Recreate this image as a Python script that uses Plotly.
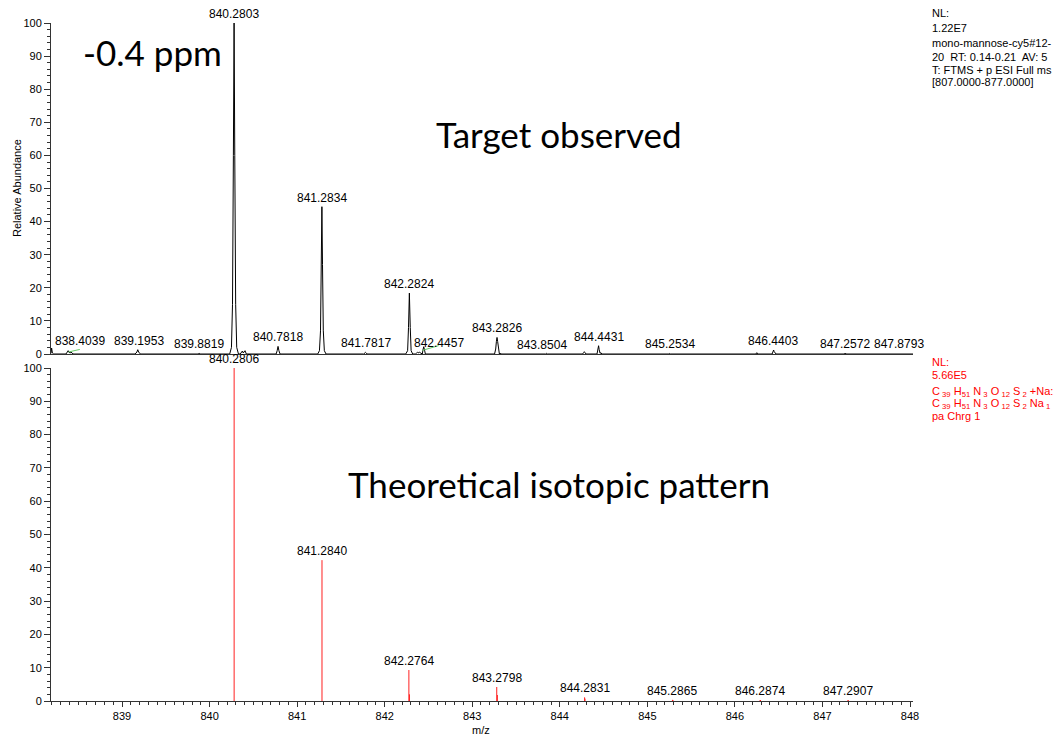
import plotly.graph_objects as go

# ---------------- data ----------------
# observed profile spectrum (m/z, relative abundance)
obs_mz = [838.189, 838.196, 838.205, 838.22,
          838.36, 838.375, 838.385, 838.395, 838.41, 838.42, 838.43, 838.45,
          839.15, 839.17, 839.18, 839.19, 839.21,
          839.87, 839.88, 839.89,
          840.230, 840.250, 840.262, 840.272, 840.280, 840.288, 840.298, 840.310, 840.330,
          840.35, 840.365, 840.375, 840.385, 840.395, 840.405, 840.42,
          840.76, 840.772, 840.782, 840.792, 840.805,
          841.235, 841.255, 841.267, 841.276, 841.283, 841.290, 841.299, 841.311, 841.330,
          841.76, 841.775, 841.782, 841.79, 841.80,
          842.24, 842.262, 842.272, 842.282, 842.292, 842.302, 842.32,
          842.35, 842.365, 842.375, 842.385, 842.395, 842.405, 842.43,
          842.437, 842.446, 842.455, 842.465,
          843.255, 843.268, 843.276, 843.283, 843.290, 843.298, 843.31, 843.32, 843.33,
          843.84, 843.85, 843.86,
          844.26, 844.272, 844.28, 844.288, 844.30,
          844.425, 844.436, 844.443, 844.450, 844.46, 844.47, 844.48,
          845.24, 845.25, 845.26,
          846.24, 846.25, 846.26,
          846.425, 846.435, 846.442, 846.449, 846.46, 846.47,
          847.25, 847.26, 847.27,
          847.87, 847.88, 847.89,
          848.034]
obs_int = [0.2, 1.8, 0.3, 0,
           0, 0.5, 1.0, 0.5, 0.3, 0.6, 0.2, 0,
           0, 0.6, 1.3, 0.6, 0,
           0, 0.25, 0,
           0, 2, 15, 60, 100, 60, 15, 2, 0,
           0, 0.6, 0.9, 0.3, 0.8, 1.0, 0,
           0, 1.0, 2.3, 1.0, 0,
           0, 1, 7, 27, 44.5, 27, 7, 1, 0,
           0, 0.3, 0.5, 0.3, 0,
           0, 1, 8, 18.4, 8, 1, 0,
           0, 0.3, 0.5, 0.3, 0.6, 0.4, 0,
           1.2, 2.2, 1.2, 0,
           0, 1.5, 3.8, 5.0, 3.8, 1.5, 0, 0.3, 0,
           0, 0.2, 0,
           0, 0.4, 0.7, 0.4, 0,
           0, 1.3, 2.5, 1.3, 0.2, 0.4, 0,
           0, 0.15, 0,
           0, 0.4, 0,
           0, 0.7, 1.2, 0.7, 0.3, 0,
           0, 0.3, 0,
           0, 0.15, 0,
           0]

# labelled observed peaks
obs_label_mz = [838.4039, 839.1953, 839.8819, 840.2803, 840.7818, 841.2834,
                841.7817, 842.2824, 842.4457, 843.2826, 843.8504, 844.4431,
                845.2534, 846.4403, 847.2572, 847.8793]
obs_label_int = [1.2, 1.3, 0.3, 100, 2.3, 44.5,
                 0.6, 18.4, 2.2, 5.0, 0.0, 2.5,
                 0.3, 1.2, 0.3, 0.3]

# theoretical isotopic pattern (sticks)
theo_mz = [840.2806, 841.2840, 842.2764, 842.2830, 843.2798, 843.2870,
           844.2831, 844.2880, 845.2865, 845.2920, 846.2874, 846.2920,
           847.2907, 847.2950]
theo_int = [100, 42.3, 9.3, 2.0, 4.2, 1.8,
            1.1, 0.7, 0.35, 0.3, 0.3, 0.3,
            0.25, 0.25]
theo_label_mz = [840.2806, 841.2840, 842.2764, 843.2798, 844.2831,
                 845.2865, 846.2874, 847.2907]
theo_label_int = [100, 42.3, 9.3, 4.2, 1.1, 0.35, 0.3, 0.25]

header_lines = ["NL:", "1.22E7", "mono-mannose-cy5#12-",
                "20  RT: 0.14-0.21  AV: 5", "T: FTMS + p ESI Full ms",
                "[807.0000-877.0000]"]
theo_lines = ["NL:", "5.66E5",
              "C<sub> 39</sub> H<sub>51</sub> N<sub> 3</sub> O<sub> 12</sub> S<sub> 2</sub> +Na:",
              "C<sub> 39</sub> H<sub>51</sub> N<sub> 3</sub> O<sub> 12</sub> S<sub> 2</sub> Na<sub> 1</sub>",
              "pa Chrg 1"]

# ---------------- layout helpers ----------------
W, H = 1053, 737
ML, MR, MT, MB = 51, 140, 23, 36
X0, X1 = 838.189, 848.034


def px_x(p):
    return (p - ML) / (W - ML - MR)


def px_y(p):
    return (H - MB - p) / (H - MT - MB)


SMALL = "Liberation Sans, Arial, sans-serif"
BIG = "Lato, sans-serif"

fig = go.Figure()

# observed profile
fig.add_trace(go.Scatter(x=obs_mz, y=obs_int, mode="lines",
                         line=dict(color="black", width=1),
                         xaxis="x", yaxis="y", hoverinfo="skip",
                         showlegend=False))

# green leader lines for shifted labels
shifts = {838.4039: 10, 842.4457: 15, 843.8504: -5}
px_per_unit = (W - ML - MR) / (X1 - X0)
gx, gy = [], []
for m, h in zip(obs_label_mz, obs_label_int):
    if m in (838.4039, 842.4457):
        gx += [m - 0.015, m + shifts[m] / px_per_unit, None]
        gy += [h * 0.5, h * 1.15, None]
fig.add_trace(go.Scatter(x=gx, y=gy, mode="lines",
                         line=dict(color="#66cc66", width=1),
                         xaxis="x", yaxis="y", hoverinfo="skip",
                         showlegend=False))

# theoretical sticks
sx, sy = [], []
for m, h in zip(theo_mz, theo_int):
    sx += [m, m, None]
    sy += [0, h, None]
fig.add_trace(go.Scatter(x=sx, y=sy, mode="lines",
                         line=dict(color="#ff2020", width=1),
                         xaxis="x2", yaxis="y2", hoverinfo="skip",
                         showlegend=False))

annotations = []
yshift_obs = {842.4457: -5, 843.8504: 0}
for m, h in zip(obs_label_mz, obs_label_int):
    annotations.append(dict(x=m, y=h, xref="x", yref="y", text=f"{m:.4f}",
                            showarrow=False, xanchor="center", yanchor="bottom",
                            xshift=shifts.get(m, 0), yshift=yshift_obs.get(m, 0),
                            font=dict(family=SMALL, size=12, color="black")))
for m, h in zip(theo_label_mz, theo_label_int):
    annotations.append(dict(x=m, y=h, xref="x2", yref="y2", text=f"{m:.4f}",
                            showarrow=False, xanchor="center", yanchor="bottom",
                            font=dict(family=SMALL, size=12, color="black")))

header_y = [13, 28, 43, 57, 70, 82]
for t, yy in zip(header_lines, header_y):
    annotations.append(dict(x=px_x(930), y=px_y(yy), xref="paper", yref="paper",
                            text=t, showarrow=False, xanchor="left",
                            yanchor="middle",
                            font=dict(family=SMALL, size=11, color="black")))
theo_y = [362, 375, 392, 404, 416]
for t, yy in zip(theo_lines, theo_y):
    annotations.append(dict(x=px_x(930), y=px_y(yy), xref="paper", yref="paper",
                            text=t, showarrow=False, xanchor="left",
                            yanchor="middle",
                            font=dict(family=SMALL, size=11, color="#ff0000")))

# big overlay texts
annotations.append(dict(x=px_x(152), y=px_y(52), xref="paper", yref="paper",
                        text="-0.4 ppm", showarrow=False, xanchor="center",
                        yanchor="middle", font=dict(family=BIG, size=35, color="black")))
annotations.append(dict(x=px_x(559), y=px_y(134), xref="paper", yref="paper",
                        text="Target observed", showarrow=False, xanchor="center",
                        yanchor="middle", font=dict(family=BIG, size=35, color="black")))
annotations.append(dict(x=px_x(559), y=px_y(484), xref="paper", yref="paper",
                        text="Theoretical isotopic pattern", showarrow=False,
                        xanchor="center", yanchor="middle",
                        font=dict(family=BIG, size=35, color="black")))

# axis titles
annotations.append(dict(x=px_x(17), y=px_y(188), xref="paper", yref="paper",
                        text="Relative Abundance", showarrow=False, textangle=-90,
                        xanchor="center", yanchor="middle",
                        font=dict(family=SMALL, size=11, color="black")))
annotations.append(dict(x=px_x(481), y=px_y(730), xref="paper", yref="paper",
                        text="m/z", showarrow=False, xanchor="center",
                        yanchor="middle",
                        font=dict(family=SMALL, size=11, color="black")))

AX = "#333333"
yaxis_common = dict(range=[0, 100], dtick=10, tick0=0, ticks="outside", ticklen=6,
                    tickwidth=1, tickcolor=AX, showline=True, linecolor=AX,
                    linewidth=1, showgrid=False, zeroline=False,
                    tickfont=dict(family=SMALL, size=11, color="black"),
                    minor=dict(dtick=2, ticks="outside", ticklen=3, tickcolor=AX,
                               showgrid=False),
                    fixedrange=True)

fig.update_layout(
    width=W, height=H,
    margin=dict(l=ML, r=MR, t=MT, b=MB, pad=0),
    paper_bgcolor="white", plot_bgcolor="white",
    showlegend=False,
    xaxis=dict(domain=[0, 1], range=[X0, X1], anchor="y", showline=True,
               linecolor=AX, linewidth=1, ticks="", showticklabels=False,
               showgrid=False, zeroline=False),
    xaxis2=dict(domain=[0, 1], range=[X0, X1], anchor="y2", matches="x",
                showline=True, linecolor=AX, linewidth=1, ticks="outside",
                ticklen=5, tickcolor=AX, dtick=1, tick0=839, showgrid=False,
                zeroline=False,
                tickfont=dict(family=SMALL, size=11, color="black"),
                minor=dict(dtick=0.1, ticks="outside", ticklen=3, tickcolor=AX,
                           showgrid=False)),
    yaxis=dict(domain=[px_y(354), 1], anchor="x", **yaxis_common),
    yaxis2=dict(domain=[0, px_y(368)], anchor="x2", **yaxis_common),
    annotations=annotations,
)

fig.write_html("out.html")
